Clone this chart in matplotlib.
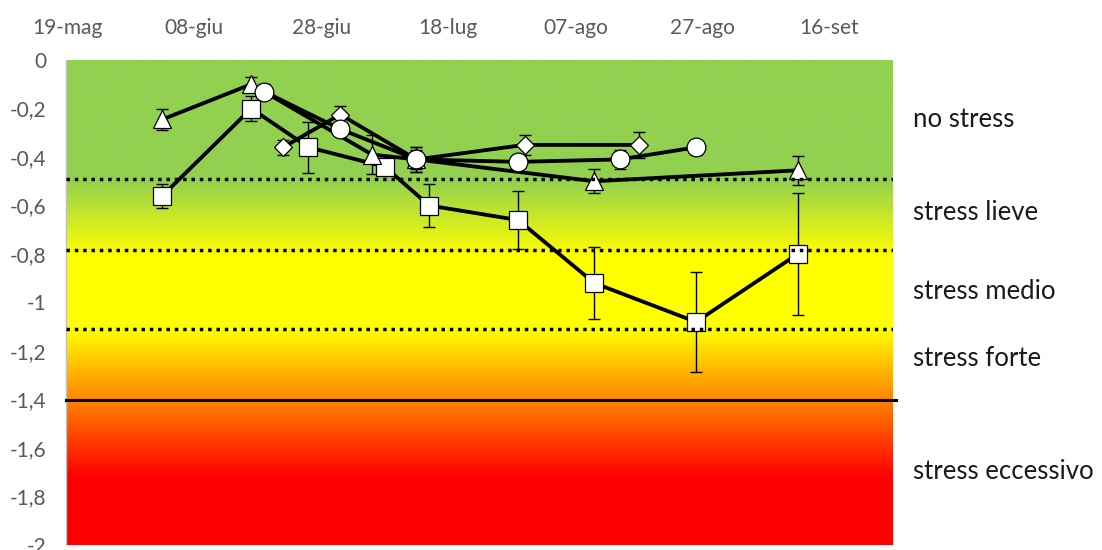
import numpy as np
import pandas as pd
import matplotlib
matplotlib.use('Agg')
import matplotlib.pyplot as plt
from matplotlib.colors import LinearSegmentedColormap
from matplotlib.ticker import FuncFormatter

plt.rcParams['font.family'] = ['Lato', 'DejaVu Sans']

# --- data ---
tri_dates = ['2019-06-03', '2019-06-17', '2019-07-06', '2019-07-13', '2019-08-10', '2019-09-11']
tri_vals = [-0.245, -0.10, -0.39, -0.41, -0.50, -0.455]
tri_err = [0.045, 0.03, 0.08, 0.05, 0.05, 0.06]

sq_dates = ['2019-06-03', '2019-06-17', '2019-06-26', '2019-07-08', '2019-07-15',
            '2019-07-29', '2019-08-10', '2019-08-26', '2019-09-11']
sq_vals = [-0.56, -0.20, -0.36, -0.44, -0.60, -0.66, -0.92, -1.08, -0.80]
sq_err = [0.05, 0.05, 0.105, 0.03, 0.09, 0.12, 0.147, 0.207, 0.25]

circ_dates = ['2019-06-19', '2019-07-01', '2019-07-13', '2019-07-29', '2019-08-14', '2019-08-26']
circ_vals = [-0.13, -0.285, -0.41, -0.42, -0.41, -0.36]
circ_err = [0.03, 0.03, 0.05, 0.03, 0.04, 0.03]

dia_dates = ['2019-06-22', '2019-07-01', '2019-07-13', '2019-07-30', '2019-08-17']
dia_vals = [-0.36, -0.225, -0.41, -0.35, -0.35]
dia_err = [0.03, 0.035, 0.04, 0.04, 0.055]

# stress thresholds and zone labels
dotted_limits = [-0.49, -0.785, -1.11]
solid_limit = -1.4
zone_labels = ['no stress', 'stress lieve', 'stress medio', 'stress forte', 'stress eccessivo']
zone_label_y = [-0.247, -0.63, -0.953, -1.229, -1.695]

mesi = ['gen', 'feb', 'mar', 'apr', 'mag', 'giu', 'lug', 'ago', 'set', 'ott', 'nov', 'dic']
tick_dates = pd.date_range('2019-05-19', periods=7, freq='20D')

# --- figure ---
fig = plt.figure(figsize=(11.02, 5.5), dpi=100)
ax = fig.add_axes([66 / 1102, 5 / 550, (893 - 66) / 1102, 485 / 550])

# background gradient: green -> yellow -> red
cmap = LinearSegmentedColormap.from_list('stress', [
    (0.0, '#92D050'), (0.245, '#92D050'), (0.40, '#FFFF00'),
    (0.555, '#FFFF00'), (0.86, '#FF0000'), (1.0, '#FF0000')])
grad = np.linspace(0, 1, 500).reshape(-1, 1)
ax.imshow(grad, extent=[0, 1, 0, 1], transform=ax.transAxes, aspect='auto',
          cmap=cmap, origin='upper', zorder=0)

series = [
    (sq_dates, sq_vals, sq_err, 's', 13.5),
    (tri_dates, tri_vals, tri_err, '^', 13.5),
    (dia_dates, dia_vals, dia_err, 'D', 9.5),
    (circ_dates, circ_vals, circ_err, 'o', 13.5),
]
for dates, vals, err, mk, ms in series:
    x = pd.to_datetime(dates)
    ax.errorbar(x, vals, yerr=err, fmt='none', ecolor='black', elinewidth=1,
                capsize=4.6, capthick=1, zorder=2)
    ax.plot(x, vals, color='black', lw=2.75, marker=mk, ms=ms,
            mfc='white', mec='black', mew=0.9, zorder=3)

for y in dotted_limits:
    ax.axhline(y, color='black', lw=2.5, ls=(0, (1, 1.4)), zorder=5)
ax.axhline(solid_limit, color='black', lw=2.2, xmax=1.004, clip_on=False, zorder=5)

for lab, y in zip(zone_labels, zone_label_y):
    ax.text(1.024, y, lab, transform=ax.get_yaxis_transform(), va='center',
            ha='left', fontsize=18.5, color='#1a1a1a')

ax.set_xlim(pd.Timestamp('2019-05-19') - pd.Timedelta(hours=4), pd.Timestamp('2019-09-26'))
ax.set_ylim(-2, 0)

ax.xaxis.tick_top()
ax.set_xticks(tick_dates)
ax.set_xticklabels([f"{d.day:02d}-{mesi[d.month - 1]}" for d in tick_dates])
ax.set_yticks(np.round(np.arange(0, -2.01, -0.2), 1))
ax.yaxis.set_major_formatter(FuncFormatter(
    lambda v, p: '0' if abs(v) < 1e-9 else f"{v:g}".replace('.', ',')))
ax.tick_params(axis='x', length=0, pad=16, labelsize=15, labelcolor='#595959')
ax.tick_params(axis='y', length=0, pad=14, labelsize=15, labelcolor='#595959')

for s in ['top', 'right', 'bottom']:
    ax.spines[s].set_visible(False)
ax.spines['left'].set_color('#BFBFBF')
ax.spines['left'].set_linewidth(1)

fig.savefig('out.png', dpi=100)
